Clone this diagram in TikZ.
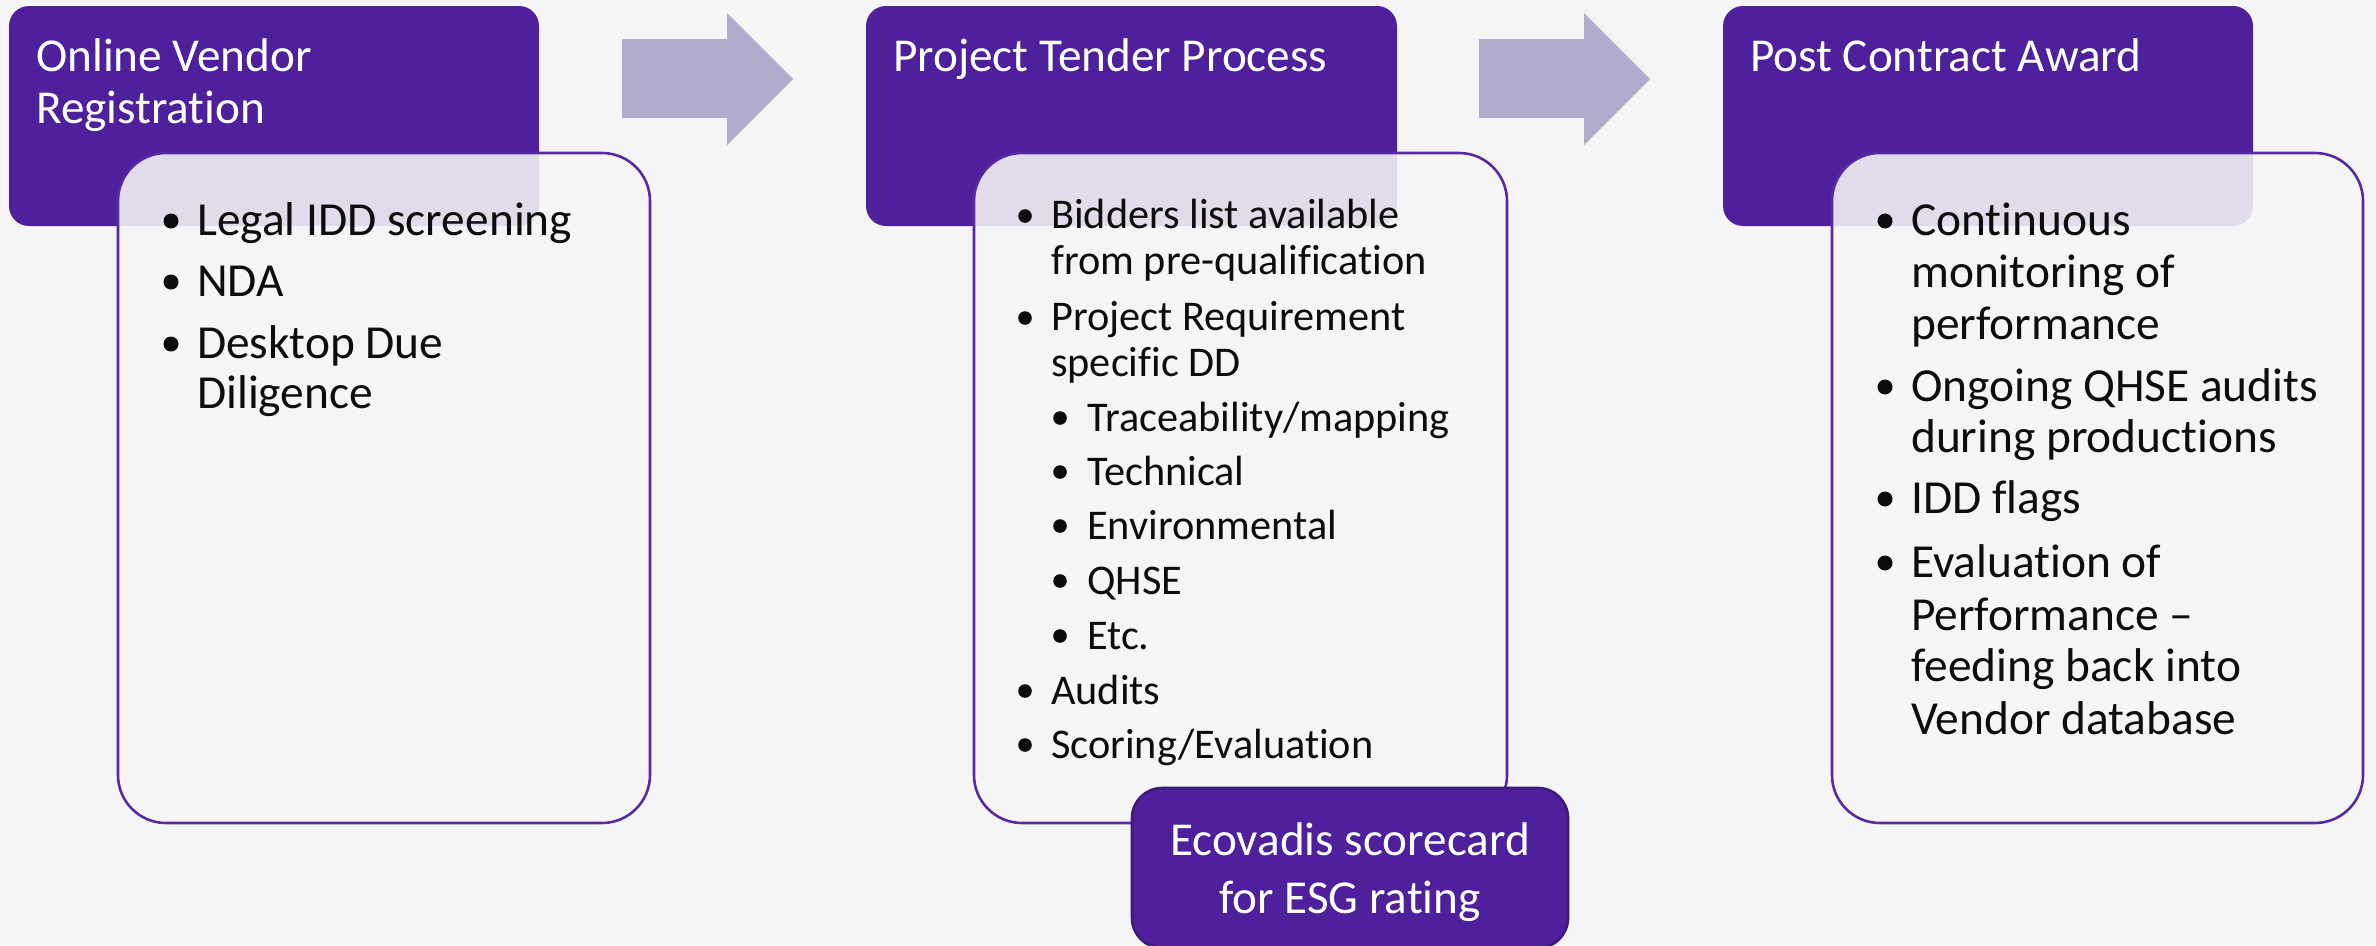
\documentclass[tikz,border=0pt]{standalone}
\usepackage{fontspec}
\setmainfont{Carlito}[Ligatures={NoCommon}]
\definecolor{bg}{RGB}{245,245,245}
\definecolor{hdrpurple}{RGB}{78,32,155}
\definecolor{edgepurple}{RGB}{86,42,162}
\definecolor{arrowfill}{RGB}{178,171,204}
\definecolor{textdark}{RGB}{13,13,13}
\definecolor{ecoedge}{RGB}{60,25,122}
\definecolor{boxfill}{RGB}{246,246,246}
\begin{document}
\begin{tikzpicture}[x=1pt,y=-1pt,
  hdr/.style={fill=hdrpurple, draw=none, rounded corners=20pt, inner sep=0pt, minimum height=220pt},
  content/.style={fill=boxfill, fill opacity=0.88, draw=edgepurple, line width=2.6pt, rounded corners=48pt, inner sep=0pt, minimum height=670pt},
  ecobox/.style={fill=hdrpurple, draw=ecoedge, line width=2.6pt, rounded corners=30pt, inner sep=0pt},
  blockarrow/.style={fill=arrowfill},
  big/.style={font=\fontsize{47.4pt}{52pt}\selectfont, inner sep=0pt, anchor=base west, text=textdark},
  small/.style={font=\fontsize{42.3pt}{47pt}\selectfont, inner sep=0pt, anchor=base west, text=textdark},
  hdrtext/.style={font=\fontsize{47.2pt}{52pt}\selectfont, inner sep=0pt, anchor=base west, text=white},
  ecotext/.style={font=\fontsize{47.2pt}{57pt}\selectfont, inner sep=0pt, anchor=base, text=white},
  dot/.style={fill=textdark}
]
\fill[bg] (0,0) rectangle (2376,945);
\useasboundingbox (0,0) rectangle (2376,945);

% block arrows
\fill[blockarrow] (622,39) -- (727,39) -- (727,13) -- (793,79) -- (727,145) -- (727,118) -- (622,118) -- cycle;
\fill[blockarrow] (1479,39) -- (1584,39) -- (1584,13) -- (1650,79) -- (1584,145) -- (1584,118) -- (1479,118) -- cycle;

% headers
\node[hdr, minimum width=530pt] (h1) at (274,116) {};
\node[hdr, minimum width=531pt] (h2) at (1131.5,116) {};
\node[hdr, minimum width=530pt] (h3) at (1988,116) {};

\node[hdrtext] (h1a) at (36,71) {Online Vendor};
\node[hdrtext] (h1b) at (36,123) {Registration};
\node[hdrtext] (h2a) at (893,71) {Project Tender Process};
\node[hdrtext] (h3a) at (1750,71) {Post Contract Award};

% content boxes
\node[content, minimum width=532pt] (c1) at (384,488) {};
\node[content, minimum width=533pt] (c2) at (1240.5,488) {};
\node[content, minimum width=531pt] (c3) at (2097.5,488) {};

% box 1
\fill[dot] (171,221) circle (7.5pt);
\node[big] (t1a) at (197,235) {Legal IDD screening};
\fill[dot] (171,282) circle (7.5pt);
\node[big] (t1b) at (197,296) {NDA};
\fill[dot] (171,344) circle (7.5pt);
\node[big] (t1c) at (197,358) {Desktop Due};
\node[big] (t1d) at (197,408) {Diligence};

% box 2
\fill[dot] (1025,216) circle (6.8pt);
\node[small] (t2a) at (1051,228) {Bidders list available};
\node[small] (t2b) at (1051,274) {from pre-qualification};
\fill[dot] (1025,318) circle (6.8pt);
\node[small] (t2c) at (1051,330) {Project Requirement};
\node[small] (t2d) at (1051,376) {specific DD};
\fill[dot] (1060,418) circle (6.8pt);
\node[small] (t2e) at (1087,431) {Traceability/mapping};
\fill[dot] (1060,472) circle (6.8pt);
\node[small] (t2f) at (1087,485) {Technical};
\fill[dot] (1060,526) circle (6.8pt);
\node[small] (t2g) at (1087,539) {Environmental};
\fill[dot] (1060,581) circle (6.8pt);
\node[small] (t2h) at (1087,594) {QHSE};
\fill[dot] (1060,636) circle (6.8pt);
\node[small] (t2i) at (1087,649) {Etc.};
\fill[dot] (1025,691) circle (6.8pt);
\node[small] (t2j) at (1051,704) {Audits};
\fill[dot] (1025,745) circle (6.8pt);
\node[small] (t2k) at (1051,758) {Scoring/Evaluation};

% box 3
\fill[dot] (1885,221) circle (7.5pt);
\node[big] (t3a) at (1911,235) {Continuous};
\node[big] (t3b) at (1911,287) {monitoring of};
\node[big] (t3c) at (1911,339) {performance};
\fill[dot] (1885,387) circle (7.5pt);
\node[big] (t3d) at (1911,401) {Ongoing QHSE audits};
\node[big] (t3e) at (1911,452) {during productions};
\fill[dot] (1885,499) circle (7.5pt);
\node[big] (t3f) at (1911,513) {IDD flags};
\fill[dot] (1885,563) circle (7.5pt);
\node[big] (t3g) at (1911,577) {Evaluation of};
\node[big] (t3h) at (1911,630) {Performance --};
\node[big] (t3i) at (1911,681) {feeding back into};
\node[big] (t3j) at (1911,734) {Vendor database};

% Ecovadis box
\node[ecobox, minimum width=436pt, minimum height=160pt] (eco) at (1350,868) {};
\node[ecotext] (e1) at (1350,855) {Ecovadis scorecard};
\node[ecotext] (e2) at (1350,913) {for ESG rating};
\end{tikzpicture}
\end{document}
